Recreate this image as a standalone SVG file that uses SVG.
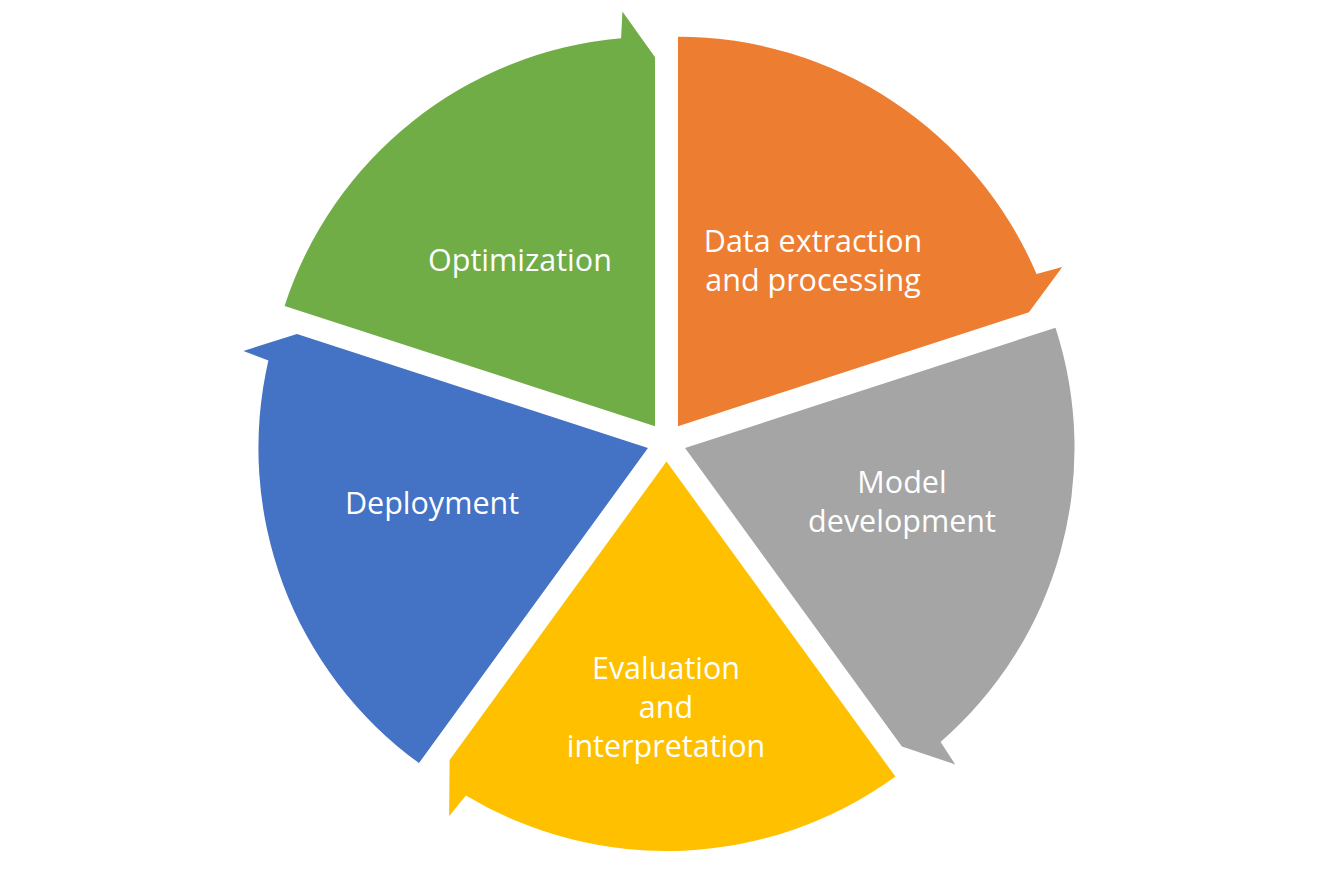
<svg xmlns="http://www.w3.org/2000/svg" width="1334" height="889" viewBox="0 0 1334 889">
<style>
.lbl{font-family:"Open Sans","Noto Sans","DejaVu Sans",sans-serif;font-size:30.5px;fill:#FFFFFF;text-anchor:middle}
</style>
<rect width="1334" height="889" fill="#FFFFFF"/>
<g id="connectors"></g>
<g id="node-data">
<path fill="#ED7D31" d="M677.96,426.22 L677.96,36.72 A389.5,389.5 0 0 1 1036.5,274.0 L1062.3,267.0 L1028.9,312.2 Z"/>
<text class="lbl" x="813" y="252">Data extraction</text>
<text class="lbl" x="813" y="291">and processing</text>
</g>
<g id="node-model">
<path fill="#A5A5A5" d="M685.05,448.03 L1055.5,327.7 A389.5,389.5 0 0 1 940.6,741.9 L955.2,764.4 L901.9,746.6 Z"/>
<text class="lbl" x="902" y="493">Model</text>
<text class="lbl" x="902" y="532">development</text>
</g>
<g id="node-eval">
<path fill="#FFC000" d="M666.5,461.5 L895.45,776.6 A389.5,389.5 0 0 1 465.9,795.4 L449.1,816.2 L449.6,760.0 Z"/>
<text class="lbl" x="666" y="679">Evaluation</text>
<text class="lbl" x="666" y="718">and</text>
<text class="lbl" x="666" y="757">interpretation</text>
</g>
<g id="node-deploy">
<path fill="#4472C4" d="M647.95,448.03 L419.0,763.1 A389.5,389.5 0 0 1 268.4,360.4 L243.4,350.9 L297.0,334.0 Z"/>
<text class="lbl" x="432" y="514">Deployment</text>
</g>
<g id="node-opt">
<path fill="#70AD47" d="M655.04,426.22 L284.6,305.9 A389.5,389.5 0 0 1 621.1,38.2 L622.4,11.5 L655.04,57.2 Z"/>
<text class="lbl" x="520" y="271">Optimization</text>
</g>
</svg>
